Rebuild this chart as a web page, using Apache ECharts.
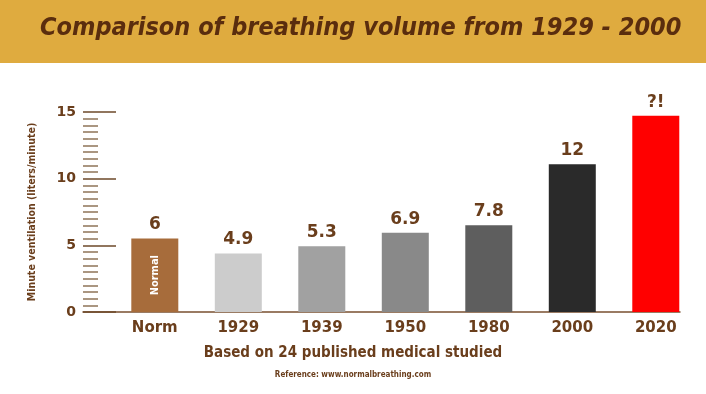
<!DOCTYPE html>
<html>
<head>
<meta charset="utf-8">
<script src="https://cdn.jsdelivr.net/npm/echarts@6/dist/echarts.min.js"></script>
<style>
html,body{margin:0;padding:0;background:#fff;}
#chart{width:706px;height:394px;}
</style>
</head>
<body>
<div id="chart"></div>
<script>
const categories = ['Norm', '1929', '1939', '1950', '1980', '2000', '2020'];
const values = [5.52, 4.39, 4.94, 5.94, 6.51, 11.08, 14.72];
const valueLabels = ['6', '4.9', '5.3', '6.9', '7.8', '12', '?!'];
const barColors = ['#A76C3B', '#CCCCCC', '#A1A1A1', '#898989', '#5E5E5E', '#2A2A2A', '#FF0000'];
const yTicks = [0, 5, 10, 15];
const innerLabels = ['Normal', '', '', '', '', '', ''];

const brown = '#6A3E1C';
const narrow = "'DejaVu Sans Condensed', 'Liberation Sans Narrow', 'Roboto Condensed', 'Open Sans Condensed', sans-serif";
const chart = echarts.init(document.getElementById('chart'), null, {renderer: 'canvas'});

const mainData = values.map((v, i) => ({
  value: [i, v],
  itemStyle: {color: barColors[i]}
}));
const innerData = values.map((v, i) => ({
  value: [i, v],
  label: {show: innerLabels[i] !== ''}
}));

chart.setOption({
  animation: false,
  backgroundColor: '#ffffff',
  graphic: [{
    type: 'rect', left: 0, top: 0, z: -10,
    shape: {width: 706, height: 63},
    style: {fill: '#DFAB3F'}
  }],
  title: [{
    text: 'Comparison of breathing volume from 1929 - 2000',
    left: 40, top: 16, padding: 0,
    textStyle: {
      fontFamily: narrow, fontWeight: 'bold', fontStyle: 'italic',
      fontSize: 25, color: '#5A2D0E'
    }
  }, {
    text: 'Based on 24 published medical studied',
    left: 'center', top: 346, padding: 0,
    textStyle: {
      fontFamily: narrow, fontWeight: 'bold',
      fontSize: 15, color: brown
    }
  }, {
    text: 'Reference: www.normalbreathing.com',
    left: 'center', top: 371, padding: 0,
    textStyle: {
      fontFamily: narrow, fontWeight: 'bold',
      fontSize: 8, color: brown
    }
  }],
  grid: {left: 83, right: 26, top: 112, bottom: 82, containLabel: false},
  xAxis: {
    type: 'value',
    min: -0.86, max: 6.29,
    axisLine: {show: true, onZero: false, lineStyle: {color: '#7A5030', width: 1.5}},
    axisTick: {show: false},
    splitLine: {show: false},
    axisLabel: {
      customValues: categories.map((c, i) => i),
      formatter: v => categories[Math.round(v)] || '',
      margin: 9,
      fontFamily: 'DejaVu Sans', fontWeight: 'bold', fontSize: 15, color: brown
    }
  },
  yAxis: {
    type: 'value',
    min: 0, max: 15, interval: 5,
    name: 'Minute ventilation (liters/minute)',
    nameLocation: 'middle', nameGap: 45, nameRotate: 90,
    nameTextStyle: {
      fontFamily: narrow, fontWeight: 'bold', fontSize: 10.5, color: brown
    },
    axisLine: {show: false, onZero: false},
    axisTick: {show: true, inside: true, length: 33, lineStyle: {color: '#6E4A2A', width: 1.5}},
    minorTick: {show: true, splitNumber: 10, length: 15, lineStyle: {color: '#8E7458', width: 1.5}},
    splitLine: {show: false},
    minorSplitLine: {show: false},
    axisLabel: {
      margin: 7,
      formatter: v => (yTicks.indexOf(v) >= 0 ? String(v) : ''),
      fontFamily: 'DejaVu Sans', fontWeight: 'bold', fontSize: 14, color: brown
    }
  },
  series: [{
    type: 'bar',
    data: mainData,
    barWidth: 47,
    barGap: '-100%',
    label: {
      show: true, position: 'top', distance: 5,
      formatter: p => valueLabels[p.dataIndex],
      fontFamily: 'DejaVu Sans', fontWeight: 'bold', fontSize: 17, color: brown
    }
  }, {
    type: 'bar',
    data: innerData,
    barWidth: 47,
    barGap: '-100%',
    itemStyle: {color: 'rgba(0,0,0,0)'},
    label: {
      show: false, position: 'inside', rotate: 90,
      formatter: p => innerLabels[p.dataIndex],
      fontFamily: narrow, fontWeight: 'bold', fontSize: 11, color: '#ffffff'
    }
  }]
});
</script>
</body>
</html>
